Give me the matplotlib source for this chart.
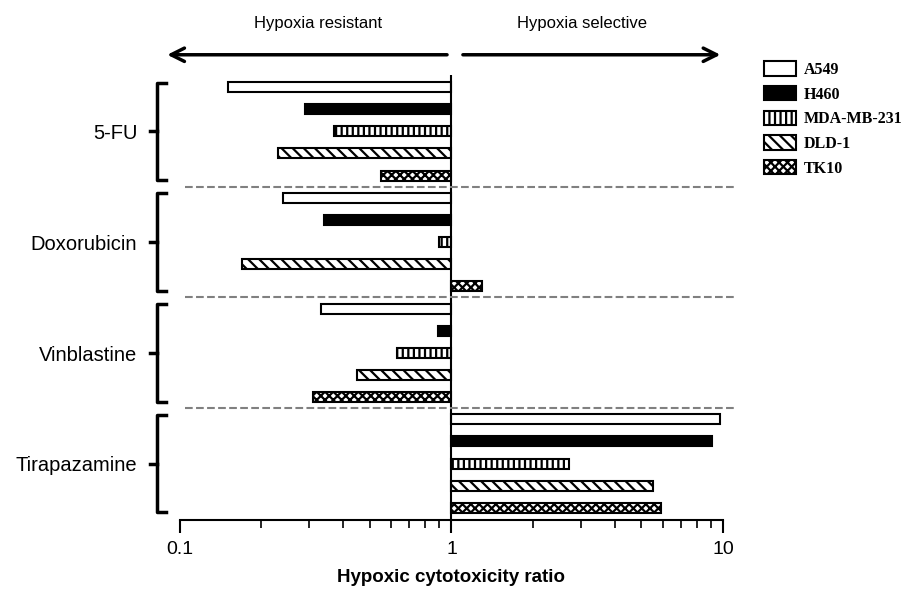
import numpy as np
import matplotlib
matplotlib.use("Agg")
from matplotlib import pyplot as plt
from matplotlib.lines import Line2D
from matplotlib.patches import Patch

plt.rcParams['font.family'] = ['Liberation Sans', 'DejaVu Sans']
plt.rcParams['hatch.linewidth'] = 1.6

# data
drugs = ["5-FU", "Doxorubicin", "Vinblastine", "Tirapazamine"]
cell_lines = ["A549", "H460", "MDA-MB-231", "DLD-1", "TK10"]
a549 = [0.15, 0.24, 0.33, 9.7]
h460 = [0.29, 0.34, 0.89, 9.1]
mda = [0.37, 0.90, 0.63, 2.7]
dld1 = [0.23, 0.17, 0.45, 5.5]
tk10 = [0.55, 1.30, 0.31, 5.9]

series = [a549, h460, mda, dld1, tk10]
faces = ['white', 'black', 'white', 'white', 'white']
hatches = [None, None, '|||', '\\\\\\', 'xxxx']

fig = plt.figure(figsize=(9.12, 5.89), dpi=100)
ax = fig.add_axes([0.197, 0.117, 0.596, 0.756])

n = len(cell_lines)
for i, vals in enumerate(series):
    for g, v in enumerate(vals):
        y = g * n + i
        ax.barh(y, v - 1, left=1, height=0.45, color=faces[i],
                edgecolor='black', linewidth=1.5, hatch=hatches[i])

ax.set_xscale('log')
ax.set_xlim(0.1, 10)
ax.set_ylim(len(drugs) * n - 0.45, -0.55)
ax.set_xticks([0.1, 1, 10])
ax.set_xticklabels(["0.1", "1", "10"])
ax.tick_params(axis='x', which='major', length=9, width=1.5, labelsize=14, pad=6)
ax.tick_params(axis='x', which='minor', length=6, width=1.2)
ax.set_yticks([])
for s in ['top', 'right', 'left']:
    ax.spines[s].set_visible(False)
ax.spines['bottom'].set_linewidth(1.5)
ax.axvline(1, color='black', linewidth=1.5)
ax.set_xlabel("Hypoxic cytotoxicity ratio", fontsize=13.5, fontweight='bold', labelpad=8)

# dashed separators between drugs
for g in range(1, len(drugs)):
    ax.plot([0.01, 1.02], [g * n - 0.5] * 2, transform=ax.get_yaxis_transform(),
            color='gray', linestyle='--', linewidth=1.5, clip_on=False)

# braces and drug labels
tr = ax.get_yaxis_transform()
for g, name in enumerate(drugs):
    top = g * n - 0.2
    bot = g * n + n - 0.8
    mid = g * n + (n - 1) / 2
    ax.add_line(Line2D([-0.025, -0.041, -0.041, -0.025], [top, top, bot, bot],
                       transform=tr, color='black', linewidth=2.5, clip_on=False))
    ax.add_line(Line2D([-0.041, -0.055], [mid, mid], transform=tr,
                       color='black', linewidth=2.5, clip_on=False))
    ax.text(-0.078, mid + 0.1, name, transform=tr, ha='right', va='center', fontsize=14.5)

# arrows on top
ax.annotate("", xy=(-0.028, 1.045), xytext=(0.497, 1.045), xycoords='axes fraction',
            arrowprops=dict(arrowstyle='->', lw=2.5, color='black', mutation_scale=24),
            annotation_clip=False)
ax.annotate("", xy=(1.0, 1.045), xytext=(0.516, 1.045), xycoords='axes fraction',
            arrowprops=dict(arrowstyle='->', lw=2.5, color='black', mutation_scale=24),
            annotation_clip=False)
ax.text(0.255, 1.115, "Hypoxia resistant", transform=ax.transAxes,
        ha='center', va='center', fontsize=12)
ax.text(0.74, 1.115, "Hypoxia selective", transform=ax.transAxes,
        ha='center', va='center', fontsize=12)

handles = [Patch(facecolor=faces[i], edgecolor='black', linewidth=1.5,
                 hatch=hatches[i], label=cell_lines[i]) for i in range(n)]
fig.legend(handles=handles, loc='upper left', bbox_to_anchor=(0.822, 0.92),
           frameon=False, prop={'family': 'Liberation Serif', 'size': 11.5, 'weight': 'bold'},
           handlelength=2.0, handleheight=1.0, labelspacing=0.5, handletextpad=0.5)

fig.savefig("out.png", dpi=100)
